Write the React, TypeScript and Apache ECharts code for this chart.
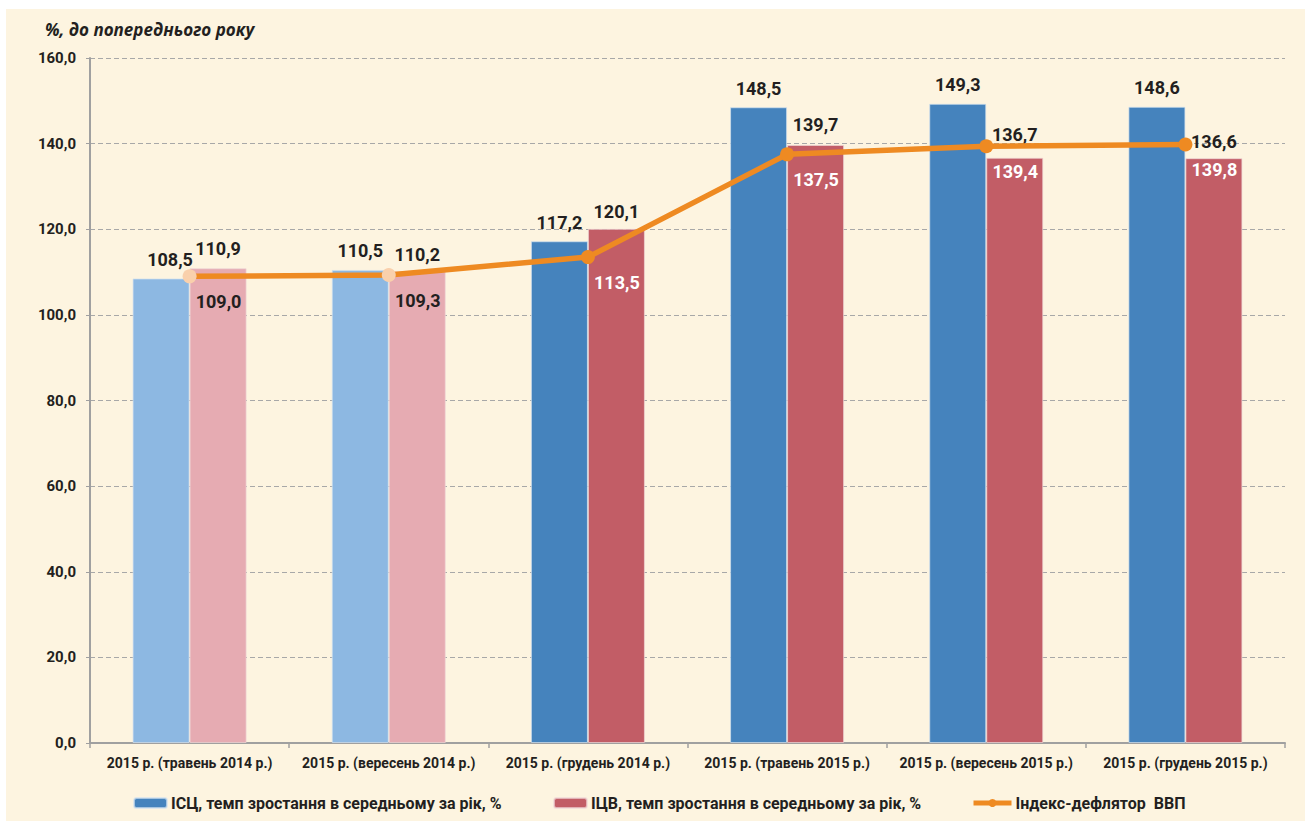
import React, { useEffect, useRef } from "react";
import * as echarts from "echarts";

const categories = [
  "2015 р. (травень 2014 р.)",
  "2015 р. (вересень 2014 р.)",
  "2015 р. (грудень 2014 р.)",
  "2015 р. (травень 2015 р.)",
  "2015 р. (вересень 2015 р.)",
  "2015 р. (грудень 2015 р.)",
];
const iscValues = [108.5, 110.5, 117.2, 148.5, 149.3, 148.6];
const icvValues = [110.9, 110.2, 120.1, 139.7, 136.7, 136.6];
const deflatorValues = [109.0, 109.3, 113.5, 137.5, 139.4, 139.8];
const seriesNames = [
  "ІСЦ, темп зростання в середньому за рік, %",
  "ІЦВ, темп зростання в середньому за рік, %",
  "Індекс-дефлятор  ВВП",
];
const forecastCount = 2; // first categories drawn lighter

const FONT = "Roboto, 'Liberation Sans', sans-serif";
const DARK = "#231F20";
const fmt = (v: number) => v.toFixed(1).replace(".", ",");

export default function App() {
  const ref = useRef<HTMLDivElement>(null);
  useEffect(() => {
    if (!ref.current) return;
    const chart = echarts.init(ref.current, undefined, { renderer: "svg" });
    const blue = "#4583BD";
    const blueLight = "#8DB8E2";
    const red = "#C25D66";
    const redLight = "#E6ABB2";
    const orange = "#EE8A22";
    const peach = "#F9D0AC";

    chart.setOption({
      animation: false,
      backgroundColor: "#FDF4E0",
      textStyle: { fontFamily: FONT },
      title: {
        text: "%, до попереднього року",
        left: 34,
        top: 7,
        textStyle: {
          fontFamily: "'Open Sans', sans-serif",
          fontStyle: "italic",
          fontWeight: 700,
          fontSize: 17,
          color: DARK,
        },
      },
      grid: { left: 84, right: 20, top: 49, bottom: 78 },
      legend: [0, 1, 2].map((i) => ({
        data: [seriesNames[i]],
        left: [127, 547, 965][i],
        top: 786,
        padding: 0,
        itemWidth: i === 2 ? 38 : 33,
        itemHeight: 10,
        itemGap: 4,
        lineStyle: i === 2 ? { width: 5 } : undefined,
        textStyle: { fontFamily: FONT, fontWeight: "bold", fontSize: 16, color: DARK, padding: [0, 0, 0, -1] },
      })),
      xAxis: {
        type: "category",
        data: categories,
        axisLine: { lineStyle: { color: "#A0A0A0", width: 2 } },
        axisTick: { show: true, length: 5, lineStyle: { color: "#A0A0A0", width: 1.5 } },
        axisLabel: { color: DARK, fontWeight: "bold", fontSize: 14, margin: 13, interval: 0, fontFamily: FONT },
      },
      yAxis: {
        type: "value",
        min: 0,
        max: 160,
        interval: 20,
        axisLine: { show: true, lineStyle: { color: "#A0A0A0", width: 2 } },
        axisTick: { show: true, length: 4, lineStyle: { color: "#A0A0A0" } },
        splitLine: { lineStyle: { color: "#A8A8A8", type: [5, 3], width: 1 } },
        axisLabel: { color: DARK, fontWeight: "bold", fontSize: 15, margin: 14, formatter: (v: number) => fmt(v), fontFamily: FONT },
      },
      series: [
        {
          name: seriesNames[0],
          type: "bar",
          barWidth: 57,
          barGap: "0%",
          itemStyle: { color: blue, borderColor: "rgba(210,225,240,0.7)", borderWidth: 1 },
          data: iscValues.map((v, i) => ({
            value: v,
            itemStyle: i < forecastCount ? { color: blueLight } : undefined,
            label: i === 0 ? { offset: [9, 0] } : undefined,
          })),
          label: {
            show: true,
            position: "top",
            distance: 10,
            color: DARK,
            fontWeight: "bold",
            fontSize: 18,
            fontFamily: FONT,
            formatter: (p: any) => fmt(p.value),
          },
        },
        {
          name: seriesNames[1],
          type: "bar",
          barWidth: 57,
          barGap: "0%",
          itemStyle: { color: red, borderColor: "rgba(240,215,215,0.7)", borderWidth: 1 },
          data: icvValues.map((v, i) => ({
            value: v,
            itemStyle: i < forecastCount ? { color: redLight } : undefined,
            label: i === 4 ? { offset: [0, -6] } : i === 3 || i === 0 ? { offset: [0, -3] } : undefined,
          })),
          label: {
            show: true,
            position: "top",
            distance: 8,
            color: DARK,
            fontWeight: "bold",
            fontSize: 18,
            fontFamily: FONT,
            formatter: (p: any) => fmt(p.value),
          },
        },
        {
          name: seriesNames[2],
          type: "line",
          symbol: "circle",
          symbolSize: 14,
          lineStyle: { color: orange, width: 5.5 },
          itemStyle: { color: orange },
          data: deflatorValues.map((v, i) => ({
            value: v,
            itemStyle: i < forecastCount ? { color: peach } : undefined,
            label: { color: i < forecastCount ? DARK : "#FFFFFF" },
          })),
          label: {
            show: true,
            position: "bottom",
            distance: 9,
            offset: [29, 0],
            fontWeight: "bold",
            fontSize: 18,
            fontFamily: FONT,
            formatter: (p: any) => fmt(p.value),
          },
          z: 5,
        },
      ],
    });
    return () => chart.dispose();
  }, []);

  return (
    <div
      ref={ref}
      style={{ position: "absolute", left: 6, top: 9, width: 1299, height: 812 }}
    />
  );
}
